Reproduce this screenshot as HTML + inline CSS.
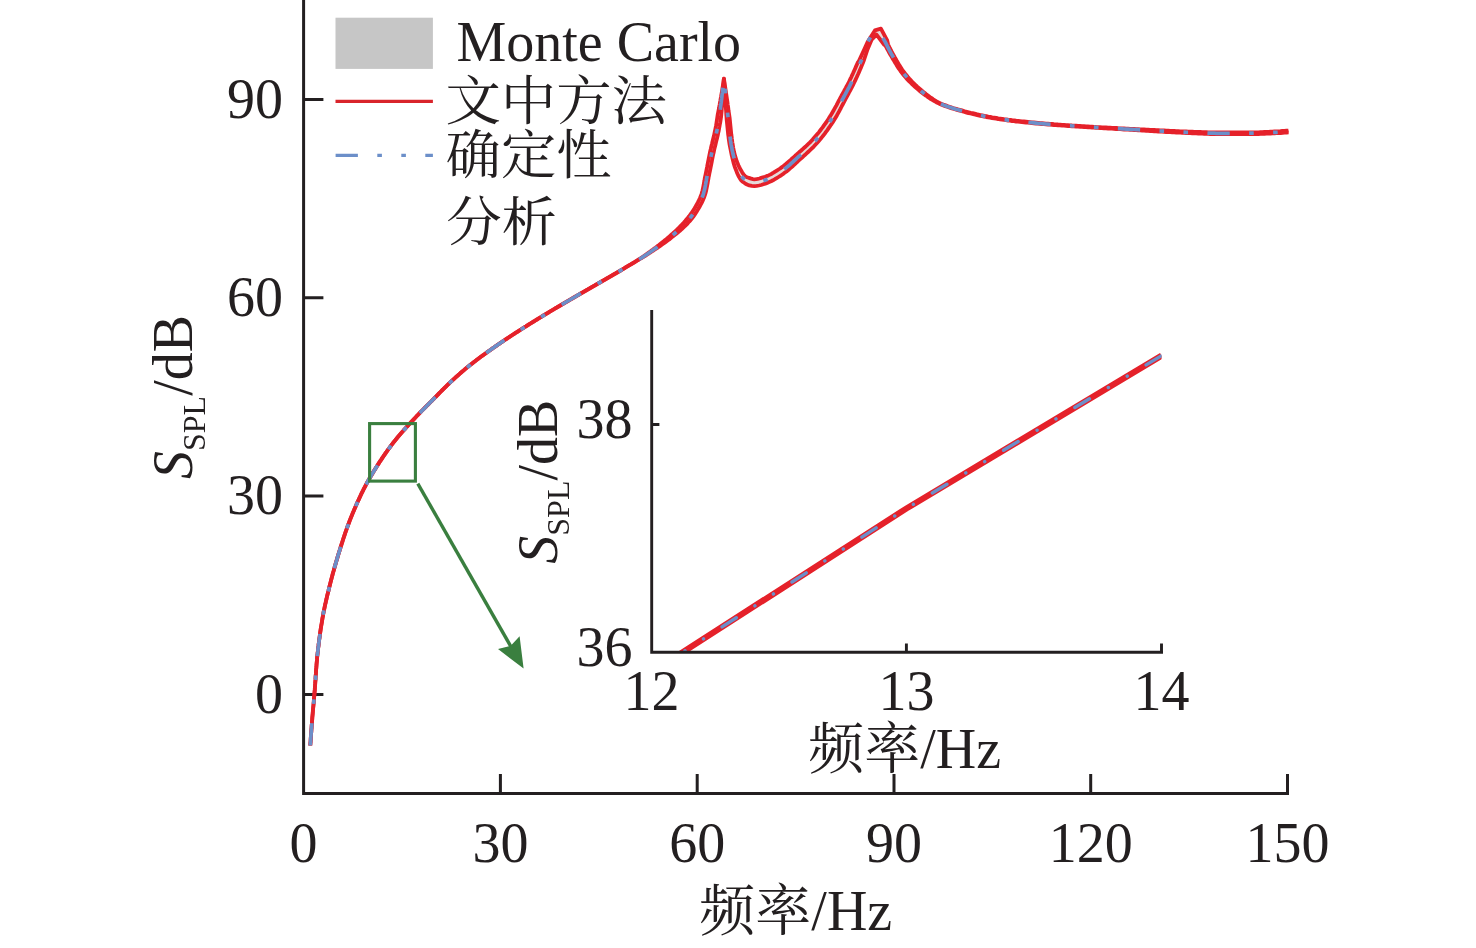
<!DOCTYPE html>
<html lang="zh"><head><meta charset="utf-8"><title>SPL</title>
<style>html,body{margin:0;padding:0;background:#fff}svg{display:block}</style></head>
<body>
<svg width="1476" height="948" viewBox="0 0 1476 948">
<rect width="1476" height="948" fill="#fff"/>
<g font-family="'Liberation Serif','Noto Serif CJK SC',serif" font-size="56" fill="#231f20">
<!-- legend -->
<rect x="335.5" y="17.7" width="97.4" height="51.2" fill="#c6c6c6"/>
<line x1="335.5" y1="101.4" x2="432.9" y2="101.4" stroke="#d9242b" stroke-width="3.2"/>
<line x1="335.6" y1="155.4" x2="432.9" y2="155.4" stroke="#6c8fc9" stroke-width="3.1" stroke-dasharray="22.3 19.4 4.6 19.4 4.6 19.4"/>
<text x="456.5" y="60.8">Monte Carlo</text>
<text transform="translate(445.4 120) scale(1 0.965)" font-size="55.4">文中方法</text>
<text transform="translate(445.6 173.6) scale(1 0.965)" font-size="55.4">确定性</text>
<text transform="translate(446.2 241) scale(1 0.965)" font-size="55.4">分析</text>
<!-- main axes -->
<g stroke="#231f20" stroke-width="3" fill="none" stroke-linecap="butt">
<path d="M303.6 0V793.4H1289"/>
<path d="M303.6 99.4H323.4M303.6 297.7H323.4M303.6 496.1H323.4M303.6 694.4H323.4"/>
<path d="M500.4 793.4V773.9M697.2 793.4V773.9M894 793.4V773.9M1090.7 793.4V773.9M1287.5 793.4V773.9"/>
</g>
<!-- main curve -->
<polygon points="310.3,745.5 310.4,743.5 310.6,741.5 310.7,739.5 310.8,737.5 311.0,735.5 311.1,733.5 311.3,731.5 311.4,729.5 311.6,727.5 311.7,725.5 311.9,723.5 312.0,721.6 312.2,719.6 312.3,717.6 312.5,715.6 312.7,713.6 312.8,711.6 313.0,709.6 313.2,707.6 313.4,705.6 313.6,703.6 313.8,701.6 313.9,699.6 314.1,697.6 314.3,695.6 314.4,693.6 314.6,691.7 314.8,689.7 314.9,687.7 315.0,685.7 315.2,683.7 315.3,681.7 315.5,679.7 315.6,677.7 315.7,675.7 315.9,673.7 316.0,671.7 316.1,669.7 316.3,667.7 316.4,665.7 316.6,663.7 316.8,661.7 317.0,659.7 317.1,657.7 317.3,655.7 317.5,653.8 317.8,651.8 318.0,649.8 318.2,647.8 318.5,645.8 318.7,643.8 319.0,641.8 319.2,639.8 319.5,637.9 319.8,635.9 320.0,633.9 320.3,631.9 320.6,629.9 320.9,627.9 321.2,626.0 321.5,624.0 321.9,622.0 322.2,620.0 322.5,618.1 322.9,616.1 323.2,614.1 323.6,612.2 324.0,610.2 324.4,608.3 324.8,606.3 325.2,604.3 325.7,602.4 326.1,600.4 326.6,598.5 327.0,596.5 327.5,594.6 328.0,592.6 328.5,590.7 328.9,588.8 329.4,586.8 329.9,584.9 330.4,582.9 330.9,581.0 331.4,579.1 331.9,577.1 332.4,575.2 332.9,573.3 333.5,571.3 334.0,569.4 334.5,567.5 335.1,565.5 335.6,563.6 336.2,561.7 336.8,559.8 337.3,557.9 337.9,556.0 338.5,554.0 339.1,552.1 339.7,550.2 340.3,548.3 340.8,546.4 341.5,544.5 342.1,542.6 342.7,540.7 343.3,538.8 343.9,536.9 344.6,535.0 345.2,533.1 345.9,531.2 346.5,529.3 347.2,527.4 347.9,525.5 348.6,523.6 349.3,521.8 350.0,519.9 350.7,518.1 351.5,516.2 352.2,514.3 353.0,512.5 353.8,510.7 354.6,508.8 355.4,507.0 356.2,505.1 357.0,503.3 357.8,501.5 358.7,499.7 359.5,497.8 360.3,496.0 361.2,494.2 362.1,492.4 363.0,490.6 363.8,488.8 364.8,487.1 365.7,485.3 366.6,483.5 367.6,481.8 368.6,480.0 369.6,478.3 370.6,476.6 371.6,474.9 372.6,473.1 373.7,471.4 374.7,469.7 375.8,468.0 376.9,466.3 377.9,464.6 379.0,462.9 380.1,461.2 381.2,459.6 382.3,457.9 383.5,456.2 384.6,454.6 385.7,452.9 386.9,451.3 388.0,449.7 389.2,448.1 390.4,446.5 391.6,444.9 392.8,443.3 394.0,441.7 395.3,440.2 396.5,438.6 397.8,437.1 399.1,435.6 400.4,434.0 401.7,432.5 403.1,431.0 404.4,429.5 405.7,428.0 407.1,426.5 408.4,425.0 409.8,423.6 411.1,422.1 412.5,420.6 413.9,419.1 415.2,417.7 416.6,416.2 418.0,414.8 419.4,413.3 420.7,411.9 422.1,410.5 423.6,409.0 425.0,407.6 426.4,406.2 427.8,404.8 429.2,403.4 430.6,402.0 432.0,400.5 433.4,399.1 434.8,397.7 436.2,396.3 437.6,394.8 439.0,393.4 440.4,392.0 441.8,390.5 443.3,389.1 444.7,387.7 446.1,386.3 447.5,384.9 449.0,383.5 450.4,382.1 451.9,380.8 453.4,379.4 454.8,378.1 456.3,376.7 457.8,375.4 459.3,374.1 460.8,372.7 462.3,371.4 463.9,370.1 465.4,368.8 466.9,367.6 468.5,366.3 470.0,365.1 471.6,363.8 473.2,362.6 474.7,361.4 476.3,360.1 477.9,358.9 479.5,357.7 481.1,356.5 482.8,355.4 484.4,354.2 486.0,353.0 487.6,351.8 489.3,350.7 490.9,349.5 492.5,348.4 494.2,347.2 495.8,346.1 497.5,344.9 499.1,343.8 500.8,342.7 502.4,341.5 504.1,340.4 505.7,339.3 507.4,338.2 509.1,337.1 510.7,336.0 512.4,334.9 514.1,333.8 515.8,332.7 517.5,331.6 519.1,330.6 520.8,329.5 522.5,328.4 524.2,327.3 525.9,326.3 527.6,325.2 529.3,324.1 531.0,323.1 532.7,322.0 534.4,321.0 536.1,319.9 537.8,318.9 539.5,317.8 541.2,316.8 542.9,315.7 544.6,314.7 546.3,313.7 548.1,312.6 549.8,311.6 551.5,310.6 553.2,309.6 554.9,308.5 556.7,307.5 558.4,306.5 560.1,305.5 561.8,304.5 563.5,303.5 565.3,302.4 567.0,301.4 568.7,300.4 570.5,299.4 572.2,298.4 573.9,297.4 575.6,296.4 577.4,295.4 579.1,294.4 580.8,293.4 582.6,292.4 584.3,291.4 586.0,290.4 587.8,289.4 589.5,288.4 591.2,287.4 593.0,286.4 594.7,285.4 596.4,284.4 598.2,283.4 599.9,282.4 601.6,281.4 603.4,280.4 605.1,279.4 606.8,278.4 608.6,277.4 610.3,276.4 612.0,275.4 613.7,274.4 615.5,273.3 617.2,272.3 618.9,271.3 620.6,270.3 622.4,269.3 624.1,268.3 625.8,267.2 627.5,266.2 629.2,265.2 631.0,264.2 632.7,263.1 634.4,262.1 636.1,261.1 637.8,260.0 639.5,259.0 641.2,257.9 642.9,256.7 644.5,255.6 646.1,254.5 647.7,253.3 649.4,252.1 651.0,250.9 652.6,249.8 654.2,248.6 655.8,247.4 657.4,246.1 659.0,244.9 660.5,243.7 662.1,242.4 663.7,241.2 665.2,239.9 666.8,238.7 668.3,237.4 669.8,236.1 671.3,234.8 672.8,233.5 674.3,232.1 675.7,230.8 677.2,229.4 678.6,228.0 680.0,226.6 681.4,225.2 682.7,223.8 684.1,222.3 685.4,220.8 686.6,219.3 687.9,217.8 689.1,216.3 690.3,214.7 691.4,213.2 692.5,211.5 693.5,209.9 694.6,208.2 695.6,206.5 696.6,204.7 697.6,203.0 698.5,201.2 699.3,199.5 700.1,197.7 700.8,195.9 701.5,194.1 702.0,192.3 702.5,190.5 702.9,188.6 703.3,186.7 703.7,184.7 704.0,182.7 704.4,180.7 704.7,178.7 705.1,176.7 705.5,174.8 705.9,172.8 706.3,170.9 706.7,168.9 707.1,166.9 707.4,165.0 707.8,163.0 708.2,161.0 708.6,159.1 709.0,157.1 709.4,155.1 709.8,153.2 710.2,151.2 710.7,149.2 711.1,147.3 711.6,145.3 712.1,143.4 712.5,141.4 713.0,139.5 713.5,137.5 714.0,135.6 714.4,133.7 714.8,131.7 715.2,129.8 715.6,127.9 716.0,125.9 716.3,124.0 716.6,122.0 716.9,120.0 717.2,118.1 717.5,116.1 717.8,114.1 718.2,112.2 718.6,110.2 719.0,108.2 719.3,106.3 719.7,104.3 720.0,102.3 720.4,100.3 720.7,98.4 721.1,96.4 721.4,94.4 721.8,92.5 722.1,90.5 722.4,88.5 722.7,86.5 723.0,84.5 723.3,82.6 723.6,80.6 723.9,78.6 724.2,80.6 724.5,82.6 724.8,84.6 725.1,86.5 725.4,88.5 725.7,90.5 726.0,92.5 726.3,94.5 726.6,96.5 726.9,98.5 727.2,100.5 727.5,102.5 727.7,104.5 728.0,106.4 728.3,108.4 728.5,110.4 728.8,112.4 729.1,114.4 729.4,116.4 729.7,118.4 729.9,120.4 730.1,122.4 730.3,124.4 730.5,126.4 730.7,128.4 730.9,130.4 731.1,132.4 731.3,134.4 731.6,136.3 731.8,138.3 732.1,140.3 732.3,142.3 732.7,144.2 733.0,146.2 733.3,148.1 733.7,150.1 734.1,152.1 734.6,154.0 735.1,155.9 735.7,157.8 736.3,159.7 736.9,161.5 737.7,163.4 738.4,165.2 739.2,166.9 740.1,168.7 741.1,170.4 742.1,172.2 743.2,173.9 744.3,175.3 745.3,176.3 746.4,176.9 747.9,177.5 749.7,178.1 751.3,178.7 753.0,179.1 754.4,179.3 755.9,179.2 757.6,178.9 759.4,178.5 761.2,177.9 763.1,177.3 765.0,176.7 766.7,176.1 768.4,175.4 770.1,174.6 771.8,173.7 773.5,172.7 775.1,171.7 776.8,170.6 778.5,169.5 780.1,168.5 781.6,167.4 783.2,166.2 784.7,165.0 786.2,163.8 787.7,162.5 789.2,161.2 790.7,159.9 792.2,158.5 793.7,157.2 795.2,155.8 796.7,154.5 798.2,153.1 799.7,151.8 801.2,150.5 802.7,149.1 804.2,147.8 805.7,146.5 807.1,145.1 808.6,143.7 810.0,142.4 811.3,141.0 812.6,139.6 813.9,138.1 815.2,136.6 816.5,135.1 817.8,133.6 819.0,132.1 820.2,130.5 821.4,128.9 822.6,127.4 823.8,125.7 824.9,124.1 826.1,122.5 827.2,120.9 828.3,119.2 829.3,117.6 830.4,115.9 831.4,114.2 832.4,112.5 833.4,110.8 834.3,109.1 835.3,107.3 836.3,105.6 837.2,103.8 838.1,102.0 839.1,100.3 840.0,98.5 841.0,96.7 841.9,94.9 842.9,93.1 843.9,91.4 844.8,89.6 845.8,87.9 846.7,86.1 847.7,84.3 848.6,82.6 849.5,80.8 850.3,79.0 851.2,77.3 852.0,75.4 852.9,73.6 853.7,71.8 854.5,70.0 855.3,68.2 856.1,66.3 856.9,64.5 857.7,62.7 858.9,61.0 864.2,49.5 867.7,41.8 874.9,30.4 880.9,28.7 887.2,40.5 888.1,44.5 889.0,46.3 889.9,48.2 890.8,49.9 891.7,51.7 892.6,53.4 893.6,55.2 894.6,57.0 895.6,58.7 896.6,60.5 897.6,62.2 898.6,63.9 899.6,65.6 900.7,67.3 901.8,69.0 902.9,70.6 904.1,72.2 905.2,73.7 906.5,75.3 907.7,76.8 909.0,78.3 910.4,79.8 911.7,81.3 913.1,82.7 914.6,84.1 916.0,85.5 917.5,86.9 919.0,88.2 920.5,89.5 922.0,90.8 923.5,92.1 925.1,93.3 926.6,94.6 928.3,95.8 929.9,97.0 931.6,98.1 933.2,99.3 934.9,100.3 936.6,101.3 938.4,102.3 940.1,103.2 941.9,104.0 943.7,104.7 945.6,105.4 947.5,106.1 949.4,106.7 951.3,107.4 953.2,108.0 955.1,108.5 957.1,109.1 959.0,109.7 961.0,110.2 962.9,110.7 964.8,111.3 966.8,111.8 968.7,112.3 970.7,112.8 972.6,113.2 974.6,113.7 976.5,114.2 978.5,114.6 980.4,115.0 982.4,115.4 984.4,115.8 986.3,116.2 988.3,116.6 990.3,116.9 992.2,117.3 994.2,117.6 996.2,117.9 998.2,118.3 1000.2,118.6 1002.1,118.9 1004.1,119.2 1006.1,119.4 1008.1,119.7 1010.1,119.9 1012.1,120.2 1014.1,120.4 1016.1,120.7 1018.1,120.9 1020.0,121.1 1022.0,121.3 1024.0,121.5 1026.0,121.7 1028.0,121.9 1030.0,122.1 1032.0,122.3 1034.0,122.5 1036.0,122.7 1038.0,122.9 1040.0,123.1 1042.0,123.2 1044.0,123.4 1046.0,123.6 1048.0,123.7 1050.0,123.9 1052.0,124.0 1054.0,124.2 1056.0,124.3 1058.0,124.5 1060.0,124.6 1062.0,124.8 1064.0,124.9 1066.0,125.1 1068.0,125.2 1070.0,125.3 1072.0,125.5 1074.0,125.6 1076.0,125.7 1078.0,125.9 1080.0,126.0 1082.0,126.1 1084.0,126.2 1086.0,126.4 1088.0,126.5 1090.1,126.6 1092.1,126.7 1094.1,126.8 1096.1,127.0 1098.1,127.1 1100.1,127.2 1102.1,127.3 1104.1,127.4 1106.1,127.5 1108.1,127.6 1110.1,127.7 1112.1,127.8 1114.1,127.9 1116.1,128.0 1118.1,128.2 1120.1,128.3 1122.1,128.4 1124.1,128.5 1126.1,128.6 1128.1,128.7 1130.1,128.8 1132.1,128.9 1134.1,129.0 1136.1,129.1 1138.1,129.2 1140.1,129.3 1142.2,129.4 1144.2,129.5 1146.2,129.6 1148.2,129.7 1150.2,129.8 1152.2,129.9 1154.2,130.0 1156.2,130.1 1158.2,130.2 1160.2,130.3 1162.2,130.4 1164.2,130.5 1166.2,130.6 1168.2,130.7 1170.2,130.8 1172.2,130.9 1174.2,131.0 1176.2,131.1 1178.2,131.2 1180.2,131.3 1182.2,131.4 1184.2,131.4 1186.2,131.5 1188.2,131.6 1190.3,131.7 1192.3,131.7 1194.3,131.8 1196.3,131.9 1198.3,131.9 1200.3,132.0 1202.3,132.1 1204.3,132.2 1206.3,132.2 1208.3,132.3 1210.3,132.3 1212.3,132.4 1214.3,132.4 1216.3,132.5 1218.3,132.5 1220.3,132.5 1222.3,132.5 1224.3,132.5 1226.3,132.5 1228.3,132.5 1230.3,132.5 1232.4,132.5 1234.4,132.5 1236.4,132.4 1238.4,132.4 1240.4,132.4 1242.4,132.4 1244.4,132.4 1246.4,132.4 1248.4,132.4 1250.4,132.4 1252.4,132.4 1254.4,132.4 1256.4,132.3 1258.4,132.3 1260.4,132.2 1262.4,132.1 1264.4,132.0 1266.4,132.0 1268.4,131.8 1270.4,131.7 1272.4,131.6 1274.4,131.5 1276.4,131.4 1278.4,131.3 1280.4,131.2 1282.4,131.0 1284.4,130.9 1286.4,130.7 1288.4,130.6 1288.6,132.4 1286.6,132.5 1284.6,132.7 1282.6,132.8 1280.6,133.0 1278.5,133.1 1276.5,133.2 1274.5,133.3 1272.5,133.4 1270.5,133.5 1268.5,133.6 1266.5,133.7 1264.5,133.8 1262.5,133.9 1260.5,133.9 1258.5,134.0 1256.5,134.1 1254.4,134.1 1252.4,134.1 1250.4,134.1 1248.4,134.1 1246.4,134.1 1244.4,134.1 1242.4,134.1 1240.4,134.1 1238.4,134.1 1236.4,134.1 1234.4,134.1 1232.4,134.1 1230.3,134.1 1228.3,134.1 1226.3,134.1 1224.3,134.1 1222.3,134.1 1220.3,134.1 1218.3,134.1 1216.3,134.1 1214.3,134.1 1212.3,134.0 1210.3,134.0 1208.3,133.9 1206.2,133.8 1204.2,133.8 1202.2,133.7 1200.2,133.6 1198.2,133.5 1196.2,133.4 1194.2,133.3 1192.2,133.3 1190.2,133.2 1188.2,133.1 1186.2,133.0 1184.2,132.9 1182.2,132.8 1180.2,132.7 1178.2,132.6 1176.2,132.5 1174.1,132.4 1172.1,132.3 1170.1,132.2 1168.1,132.1 1166.1,132.0 1164.1,131.8 1162.1,131.7 1160.1,131.6 1158.1,131.5 1156.1,131.4 1154.1,131.3 1152.1,131.2 1150.1,131.0 1148.1,130.9 1146.1,130.8 1144.1,130.7 1142.1,130.5 1140.1,130.4 1138.1,130.3 1136.1,130.2 1134.1,130.1 1132.1,129.9 1130.1,129.8 1128.1,129.7 1126.1,129.6 1124.1,129.5 1122.1,129.3 1120.1,129.2 1118.1,129.1 1116.0,129.0 1114.0,128.9 1112.0,128.7 1110.0,128.6 1108.0,128.5 1106.0,128.4 1104.0,128.3 1102.0,128.1 1100.0,128.0 1098.0,127.9 1096.0,127.8 1094.0,127.6 1092.0,127.5 1090.0,127.4 1088.0,127.3 1086.0,127.2 1084.0,127.0 1082.0,126.9 1080.0,126.8 1078.0,126.7 1076.0,126.5 1074.0,126.4 1072.0,126.3 1070.0,126.1 1068.0,126.0 1066.0,125.9 1064.0,125.7 1062.0,125.6 1060.0,125.4 1058.0,125.3 1056.0,125.1 1054.0,125.0 1052.0,124.8 1049.9,124.7 1047.9,124.5 1045.9,124.4 1043.9,124.2 1041.9,124.0 1039.9,123.9 1037.9,123.7 1035.9,123.5 1033.9,123.3 1032.0,123.1 1030.0,122.9 1028.0,122.7 1026.0,122.5 1024.0,122.3 1022.0,122.1 1020.0,121.9 1018.0,121.7 1016.0,121.5 1014.0,121.2 1012.0,121.0 1010.0,120.7 1008.0,120.5 1006.0,120.2 1004.0,119.9 1002.0,119.7 1000.0,119.4 998.1,119.0 996.1,118.7 994.1,118.4 992.1,118.1 990.1,117.7 988.2,117.3 986.2,117.0 984.2,116.6 982.2,116.2 980.3,115.8 978.3,115.4 976.3,114.9 974.4,114.5 972.4,114.0 970.5,113.5 968.5,113.1 966.6,112.6 964.6,112.0 962.7,111.5 960.8,111.0 958.8,110.4 956.9,109.9 954.9,109.3 953.0,108.7 951.0,108.1 949.1,107.5 947.2,106.8 945.3,106.2 943.4,105.4 941.6,104.7 939.8,103.9 938.0,103.1 936.2,102.2 934.4,101.2 932.7,100.1 930.9,99.1 929.2,97.9 927.5,96.8 925.9,95.6 924.2,94.4 922.6,93.2 921.0,92.0 919.5,90.7 917.9,89.4 916.4,88.1 914.9,86.8 913.4,85.4 911.9,84.0 910.4,82.5 909.0,81.1 907.6,79.6 906.2,78.1 904.9,76.6 903.6,75.0 902.4,73.5 901.1,71.9 900.0,70.2 898.8,68.6 897.7,66.9 896.6,65.2 895.6,63.4 894.5,61.7 893.5,59.9 892.4,58.2 891.4,56.4 890.4,54.7 889.4,53.0 888.4,51.2 887.4,49.4 886.5,47.6 885.5,45.9 884.6,44.1 884.0,44.5 876.5,34.6 871.6,39.8 867.5,49.5 863.7,60.8 863.0,62.7 862.2,64.5 861.4,66.4 860.7,68.3 859.9,70.1 859.1,72.0 858.3,73.8 857.4,75.7 856.6,77.5 855.7,79.4 854.9,81.2 854.0,83.0 853.1,84.9 852.2,86.7 851.2,88.5 850.3,90.3 849.3,92.0 848.4,93.8 847.4,95.6 846.5,97.3 845.5,99.1 844.6,100.9 843.7,102.7 842.7,104.5 841.8,106.2 840.9,108.0 839.9,109.8 839.0,111.6 838.0,113.4 837.0,115.2 836.0,116.9 834.9,118.7 833.9,120.4 832.8,122.1 831.7,123.8 830.5,125.5 829.4,127.2 828.2,128.9 827.0,130.6 825.8,132.2 824.6,133.9 823.3,135.5 822.0,137.1 820.7,138.7 819.4,140.2 818.1,141.8 816.8,143.3 815.4,144.8 814.0,146.3 812.5,147.8 811.1,149.2 809.6,150.6 808.1,152.0 806.6,153.4 805.1,154.8 803.6,156.1 802.1,157.5 800.6,158.8 799.1,160.1 797.7,161.5 796.2,162.9 794.7,164.3 793.2,165.7 791.7,167.0 790.1,168.4 788.6,169.7 787.0,171.1 785.3,172.3 783.6,173.6 782.0,174.7 780.3,175.9 778.5,177.0 776.7,178.1 774.9,179.2 773.0,180.3 771.1,181.3 769.2,182.1 767.2,182.9 765.3,183.6 763.3,184.3 761.2,185.0 759.0,185.5 756.7,185.9 754.3,186.1 751.8,185.9 749.3,185.4 747.0,184.5 744.9,183.3 743.1,182.0 741.4,180.5 740.0,178.6 738.8,176.6 737.8,174.5 736.9,172.4 736.2,170.5 735.4,168.6 734.7,166.6 734.1,164.6 733.5,162.6 733.0,160.6 732.5,158.6 732.1,156.7 731.6,154.7 731.2,152.7 730.8,150.7 730.4,148.7 730.0,146.7 729.6,144.7 729.3,142.7 729.0,140.7 728.7,138.7 728.5,136.7 728.2,134.7 728.0,132.7 727.8,130.7 727.6,128.7 727.4,126.7 727.2,124.7 727.0,122.7 726.8,120.7 726.6,118.7 726.5,116.7 726.3,114.7 726.2,112.7 726.1,110.7 725.9,108.7 725.8,106.7 725.7,104.7 725.6,102.7 725.4,100.6 725.3,98.6 725.2,96.6 725.0,94.6 724.9,92.6 724.8,90.6 724.6,88.6 724.5,86.6 724.3,84.6 724.2,82.6 724.0,80.6 723.9,78.6 723.8,80.6 723.7,82.6 723.5,84.6 723.4,86.6 723.3,88.6 723.1,90.6 723.0,92.6 722.9,94.6 722.7,96.6 722.6,98.6 722.4,100.6 722.3,102.6 722.1,104.6 722.0,106.6 721.8,108.6 721.7,110.6 721.5,112.6 721.3,114.6 721.1,116.6 720.8,118.6 720.5,120.6 720.2,122.6 719.8,124.5 719.5,126.5 719.1,128.5 718.8,130.5 718.3,132.5 717.9,134.5 717.5,136.4 717.0,138.4 716.5,140.3 716.0,142.3 715.6,144.2 715.1,146.2 714.6,148.1 714.2,150.0 713.8,152.0 713.3,153.9 712.9,155.9 712.5,157.8 712.1,159.8 711.8,161.7 711.4,163.7 711.0,165.7 710.6,167.6 710.2,169.6 709.8,171.6 709.4,173.5 709.0,175.5 708.6,177.4 708.3,179.4 707.9,181.4 707.6,183.4 707.2,185.4 706.8,187.4 706.4,189.3 706.0,191.3 705.5,193.3 704.9,195.2 704.2,197.2 703.4,199.1 702.6,201.0 701.7,202.8 700.7,204.7 699.7,206.5 698.7,208.3 697.6,210.1 696.6,211.8 695.5,213.5 694.4,215.2 693.2,216.9 691.9,218.5 690.6,220.1 689.2,221.6 687.9,223.1 686.5,224.6 685.0,226.0 683.6,227.4 682.1,228.8 680.6,230.2 679.0,231.5 677.5,232.8 676.0,234.1 674.4,235.3 672.8,236.6 671.2,237.8 669.7,239.1 668.0,240.3 666.4,241.5 664.8,242.7 663.2,243.8 661.5,245.0 659.9,246.1 658.2,247.3 656.5,248.4 654.9,249.5 653.2,250.6 651.5,251.7 649.8,252.8 648.2,253.9 646.5,255.0 644.8,256.0 643.1,257.1 641.4,258.1 639.6,259.1 637.9,260.2 636.2,261.2 634.5,262.3 632.8,263.3 631.1,264.3 629.3,265.3 627.6,266.4 625.9,267.4 624.2,268.4 622.5,269.4 620.7,270.5 619.0,271.5 617.3,272.5 615.6,273.5 613.8,274.5 612.1,275.5 610.4,276.5 608.6,277.5 606.9,278.5 605.2,279.5 603.4,280.5 601.7,281.5 600.0,282.5 598.2,283.5 596.5,284.5 594.8,285.5 593.0,286.5 591.3,287.5 589.6,288.5 587.8,289.5 586.1,290.5 584.4,291.5 582.6,292.5 580.9,293.5 579.2,294.5 577.4,295.5 575.7,296.5 574.0,297.5 572.3,298.5 570.5,299.5 568.8,300.6 567.1,301.6 565.4,302.6 563.6,303.6 561.9,304.6 560.2,305.6 558.5,306.6 556.7,307.7 555.0,308.7 553.3,309.7 551.6,310.7 549.8,311.7 548.1,312.8 546.4,313.8 544.7,314.8 543.0,315.9 541.3,316.9 539.6,317.9 537.9,319.0 536.2,320.0 534.5,321.1 532.8,322.1 531.1,323.2 529.4,324.2 527.7,325.3 526.0,326.4 524.3,327.4 522.6,328.5 520.9,329.6 519.2,330.7 517.5,331.8 515.8,332.8 514.2,333.9 512.5,335.0 510.8,336.1 509.1,337.2 507.5,338.3 505.8,339.4 504.1,340.5 502.5,341.6 500.8,342.8 499.2,343.9 497.5,345.0 495.9,346.2 494.2,347.3 492.6,348.4 491.0,349.6 489.3,350.8 487.7,351.9 486.1,353.1 484.4,354.3 482.8,355.4 481.2,356.6 479.6,357.8 478.0,359.0 476.4,360.2 474.8,361.4 473.2,362.7 471.7,363.9 470.1,365.1 468.5,366.4 467.0,367.6 465.5,368.9 463.9,370.2 462.4,371.5 460.9,372.8 459.4,374.1 457.9,375.5 456.4,376.8 454.9,378.1 453.4,379.5 451.9,380.8 450.5,382.2 449.0,383.6 447.6,385.0 446.2,386.4 444.7,387.8 443.3,389.2 441.9,390.6 440.5,392.0 439.1,393.4 437.7,394.9 436.3,396.3 434.9,397.7 433.5,399.2 432.1,400.6 430.7,402.0 429.3,403.4 427.8,404.8 426.4,406.3 425.0,407.7 423.6,409.1 422.2,410.5 420.8,411.9 419.4,413.4 418.0,414.8 416.6,416.3 415.3,417.7 413.9,419.2 412.5,420.7 411.2,422.1 409.8,423.6 408.5,425.1 407.1,426.6 405.8,428.1 404.4,429.6 403.1,431.1 401.8,432.6 400.5,434.1 399.2,435.6 397.9,437.1 396.6,438.7 395.3,440.2 394.1,441.8 392.8,443.3 391.6,444.9 390.4,446.5 389.3,448.1 388.1,449.7 386.9,451.3 385.8,453.0 384.6,454.6 383.5,456.3 382.4,457.9 381.3,459.6 380.1,461.3 379.1,462.9 378.0,464.6 376.9,466.3 375.8,468.0 374.8,469.7 373.7,471.4 372.7,473.2 371.7,474.9 370.6,476.6 369.6,478.3 368.6,480.1 367.6,481.8 366.7,483.5 365.7,485.3 364.8,487.1 363.9,488.9 363.0,490.6 362.1,492.4 361.2,494.2 360.4,496.1 359.5,497.9 358.7,499.7 357.8,501.5 357.0,503.3 356.2,505.2 355.4,507.0 354.6,508.8 353.8,510.7 353.0,512.5 352.3,514.4 351.5,516.2 350.8,518.1 350.0,519.9 349.3,521.8 348.6,523.7 347.9,525.5 347.2,527.4 346.6,529.3 345.9,531.2 345.2,533.1 344.6,535.0 344.0,536.9 343.3,538.8 342.7,540.7 342.1,542.6 341.5,544.5 340.9,546.4 340.3,548.3 339.7,550.2 339.1,552.1 338.5,554.0 337.9,556.0 337.4,557.9 336.8,559.8 336.2,561.7 335.7,563.6 335.1,565.6 334.6,567.5 334.0,569.4 333.5,571.3 332.9,573.3 332.4,575.2 331.9,577.1 331.4,579.1 330.9,581.0 330.4,582.9 329.9,584.9 329.4,586.8 328.9,588.8 328.5,590.7 328.0,592.6 327.5,594.6 327.0,596.5 326.6,598.5 326.1,600.4 325.7,602.4 325.2,604.3 324.8,606.3 324.4,608.3 324.0,610.2 323.6,612.2 323.2,614.1 322.9,616.1 322.5,618.1 322.2,620.0 321.9,622.0 321.6,624.0 321.2,626.0 320.9,627.9 320.6,629.9 320.3,631.9 320.0,633.9 319.8,635.9 319.5,637.9 319.2,639.8 319.0,641.8 318.7,643.8 318.5,645.8 318.2,647.8 318.0,649.8 317.8,651.8 317.6,653.8 317.3,655.7 317.1,657.7 317.0,659.7 316.8,661.7 316.6,663.7 316.5,665.7 316.3,667.7 316.1,669.7 316.0,671.7 315.9,673.7 315.7,675.7 315.6,677.7 315.5,679.7 315.3,681.7 315.2,683.7 315.1,685.7 314.9,687.7 314.8,689.7 314.6,691.7 314.5,693.6 314.3,695.6 314.1,697.6 313.9,699.6 313.8,701.6 313.6,703.6 313.4,705.6 313.2,707.6 313.0,709.6 312.9,711.6 312.7,713.6 312.5,715.6 312.3,717.6 312.2,719.6 312.0,721.6 311.9,723.5 311.7,725.5 311.6,727.5 311.4,729.5 311.3,731.5 311.1,733.5 311.0,735.5 310.8,737.5 310.7,739.5 310.6,741.5 310.4,743.5 310.3,745.5" fill="#e6d9d9"/>
<polyline points="310.3,745.5 310.4,743.5 310.6,741.5 310.7,739.5 310.8,737.5 311.0,735.5 311.1,733.5 311.3,731.5 311.4,729.5 311.6,727.5 311.7,725.5 311.9,723.5 312.0,721.6 312.2,719.6 312.3,717.6 312.5,715.6 312.7,713.6 312.8,711.6 313.0,709.6 313.2,707.6 313.4,705.6 313.6,703.6 313.8,701.6 313.9,699.6 314.1,697.6 314.3,695.6 314.4,693.6 314.6,691.7 314.8,689.7 314.9,687.7 315.0,685.7 315.2,683.7 315.3,681.7 315.5,679.7 315.6,677.7 315.7,675.7 315.9,673.7 316.0,671.7 316.1,669.7 316.3,667.7 316.4,665.7 316.6,663.7 316.8,661.7 317.0,659.7 317.1,657.7 317.3,655.7 317.5,653.8 317.8,651.8 318.0,649.8 318.2,647.8 318.5,645.8 318.7,643.8 319.0,641.8 319.2,639.8 319.5,637.9 319.8,635.9 320.0,633.9 320.3,631.9 320.6,629.9 320.9,627.9 321.2,626.0 321.5,624.0 321.9,622.0 322.2,620.0 322.5,618.1 322.9,616.1 323.2,614.1 323.6,612.2 324.0,610.2 324.4,608.3 324.8,606.3 325.2,604.3 325.7,602.4 326.1,600.4 326.6,598.5 327.0,596.5 327.5,594.6 328.0,592.6 328.5,590.7 328.9,588.8 329.4,586.8 329.9,584.9 330.4,582.9 330.9,581.0 331.4,579.1 331.9,577.1 332.4,575.2 332.9,573.3 333.5,571.3 334.0,569.4 334.5,567.5 335.1,565.5 335.6,563.6 336.2,561.7 336.8,559.8 337.3,557.9 337.9,556.0 338.5,554.0 339.1,552.1 339.7,550.2 340.3,548.3 340.8,546.4 341.5,544.5 342.1,542.6 342.7,540.7 343.3,538.8 343.9,536.9 344.6,535.0 345.2,533.1 345.9,531.2 346.5,529.3 347.2,527.4 347.9,525.5 348.6,523.6 349.3,521.8 350.0,519.9 350.7,518.1 351.5,516.2 352.2,514.3 353.0,512.5 353.8,510.7 354.6,508.8 355.4,507.0 356.2,505.1 357.0,503.3 357.8,501.5 358.7,499.7 359.5,497.8 360.3,496.0 361.2,494.2 362.1,492.4 363.0,490.6 363.8,488.8 364.8,487.1 365.7,485.3 366.6,483.5 367.6,481.8 368.6,480.0 369.6,478.3 370.6,476.6 371.6,474.9 372.6,473.1 373.7,471.4 374.7,469.7 375.8,468.0 376.9,466.3 377.9,464.6 379.0,462.9 380.1,461.2 381.2,459.6 382.3,457.9 383.5,456.2 384.6,454.6 385.7,452.9 386.9,451.3 388.0,449.7 389.2,448.1 390.4,446.5 391.6,444.9 392.8,443.3 394.0,441.7 395.3,440.2 396.5,438.6 397.8,437.1 399.1,435.6 400.4,434.0 401.7,432.5 403.1,431.0 404.4,429.5 405.7,428.0 407.1,426.5 408.4,425.0 409.8,423.6 411.1,422.1 412.5,420.6 413.9,419.1 415.2,417.7 416.6,416.2 418.0,414.8 419.4,413.3 420.7,411.9 422.1,410.5 423.6,409.0 425.0,407.6 426.4,406.2 427.8,404.8 429.2,403.4 430.6,402.0 432.0,400.5 433.4,399.1 434.8,397.7 436.2,396.3 437.6,394.8 439.0,393.4 440.4,392.0 441.8,390.5 443.3,389.1 444.7,387.7 446.1,386.3 447.5,384.9 449.0,383.5 450.4,382.1 451.9,380.8 453.4,379.4 454.8,378.1 456.3,376.7 457.8,375.4 459.3,374.1 460.8,372.7 462.3,371.4 463.9,370.1 465.4,368.8 466.9,367.6 468.5,366.3 470.0,365.1 471.6,363.8 473.2,362.6 474.7,361.4 476.3,360.1 477.9,358.9 479.5,357.7 481.1,356.5 482.8,355.4 484.4,354.2 486.0,353.0 487.6,351.8 489.3,350.7 490.9,349.5 492.5,348.4 494.2,347.2 495.8,346.1 497.5,344.9 499.1,343.8 500.8,342.7 502.4,341.5 504.1,340.4 505.7,339.3 507.4,338.2 509.1,337.1 510.7,336.0 512.4,334.9 514.1,333.8 515.8,332.7 517.5,331.6 519.1,330.6 520.8,329.5 522.5,328.4 524.2,327.3 525.9,326.3 527.6,325.2 529.3,324.1 531.0,323.1 532.7,322.0 534.4,321.0 536.1,319.9 537.8,318.9 539.5,317.8 541.2,316.8 542.9,315.7 544.6,314.7 546.3,313.7 548.1,312.6 549.8,311.6 551.5,310.6 553.2,309.6 554.9,308.5 556.7,307.5 558.4,306.5 560.1,305.5 561.8,304.5 563.5,303.5 565.3,302.4 567.0,301.4 568.7,300.4 570.5,299.4 572.2,298.4 573.9,297.4 575.6,296.4 577.4,295.4 579.1,294.4 580.8,293.4 582.6,292.4 584.3,291.4 586.0,290.4 587.8,289.4 589.5,288.4 591.2,287.4 593.0,286.4 594.7,285.4 596.4,284.4 598.2,283.4 599.9,282.4 601.6,281.4 603.4,280.4 605.1,279.4 606.8,278.4 608.6,277.4 610.3,276.4 612.0,275.4 613.7,274.4 615.5,273.3 617.2,272.3 618.9,271.3 620.6,270.3 622.4,269.3 624.1,268.3 625.8,267.2 627.5,266.2 629.2,265.2 631.0,264.2 632.7,263.1 634.4,262.1 636.1,261.1 637.8,260.0 639.5,259.0 641.2,257.9 642.9,256.7 644.5,255.6 646.1,254.5 647.7,253.3 649.4,252.1 651.0,250.9 652.6,249.8 654.2,248.6 655.8,247.4 657.4,246.1 659.0,244.9 660.5,243.7 662.1,242.4 663.7,241.2 665.2,239.9 666.8,238.7 668.3,237.4 669.8,236.1 671.3,234.8 672.8,233.5 674.3,232.1 675.7,230.8 677.2,229.4 678.6,228.0 680.0,226.6 681.4,225.2 682.7,223.8 684.1,222.3 685.4,220.8 686.6,219.3 687.9,217.8 689.1,216.3 690.3,214.7 691.4,213.2 692.5,211.5 693.5,209.9 694.6,208.2 695.6,206.5 696.6,204.7 697.6,203.0 698.5,201.2 699.3,199.5 700.1,197.7 700.8,195.9 701.5,194.1 702.0,192.3 702.5,190.5 702.9,188.6 703.3,186.7 703.7,184.7 704.0,182.7 704.4,180.7 704.7,178.7 705.1,176.7 705.5,174.8 705.9,172.8 706.3,170.9 706.7,168.9 707.1,166.9 707.4,165.0 707.8,163.0 708.2,161.0 708.6,159.1 709.0,157.1 709.4,155.1 709.8,153.2 710.2,151.2 710.7,149.2 711.1,147.3 711.6,145.3 712.1,143.4 712.5,141.4 713.0,139.5 713.5,137.5 714.0,135.6 714.4,133.7 714.8,131.7 715.2,129.8 715.6,127.9 716.0,125.9 716.3,124.0 716.6,122.0 716.9,120.0 717.2,118.1 717.5,116.1 717.8,114.1 718.2,112.2 718.6,110.2 719.0,108.2 719.3,106.3 719.7,104.3 720.0,102.3 720.4,100.3 720.7,98.4 721.1,96.4 721.4,94.4 721.8,92.5 722.1,90.5 722.4,88.5 722.7,86.5 723.0,84.5 723.3,82.6 723.6,80.6 723.9,78.6 724.2,80.6 724.5,82.6 724.8,84.6 725.1,86.5 725.4,88.5 725.7,90.5 726.0,92.5 726.3,94.5 726.6,96.5 726.9,98.5 727.2,100.5 727.5,102.5 727.7,104.5 728.0,106.4 728.3,108.4 728.5,110.4 728.8,112.4 729.1,114.4 729.4,116.4 729.7,118.4 729.9,120.4 730.1,122.4 730.3,124.4 730.5,126.4 730.7,128.4 730.9,130.4 731.1,132.4 731.3,134.4 731.6,136.3 731.8,138.3 732.1,140.3 732.3,142.3 732.7,144.2 733.0,146.2 733.3,148.1 733.7,150.1 734.1,152.1 734.6,154.0 735.1,155.9 735.7,157.8 736.3,159.7 736.9,161.5 737.7,163.4 738.4,165.2 739.2,166.9 740.1,168.7 741.1,170.4 742.1,172.2 743.2,173.9 744.3,175.3 745.3,176.3 746.4,176.9 747.9,177.5 749.7,178.1 751.3,178.7 753.0,179.1 754.4,179.3 755.9,179.2 757.6,178.9 759.4,178.5 761.2,177.9 763.1,177.3 765.0,176.7 766.7,176.1 768.4,175.4 770.1,174.6 771.8,173.7 773.5,172.7 775.1,171.7 776.8,170.6 778.5,169.5 780.1,168.5 781.6,167.4 783.2,166.2 784.7,165.0 786.2,163.8 787.7,162.5 789.2,161.2 790.7,159.9 792.2,158.5 793.7,157.2 795.2,155.8 796.7,154.5 798.2,153.1 799.7,151.8 801.2,150.5 802.7,149.1 804.2,147.8 805.7,146.5 807.1,145.1 808.6,143.7 810.0,142.4 811.3,141.0 812.6,139.6 813.9,138.1 815.2,136.6 816.5,135.1 817.8,133.6 819.0,132.1 820.2,130.5 821.4,128.9 822.6,127.4 823.8,125.7 824.9,124.1 826.1,122.5 827.2,120.9 828.3,119.2 829.3,117.6 830.4,115.9 831.4,114.2 832.4,112.5 833.4,110.8 834.3,109.1 835.3,107.3 836.3,105.6 837.2,103.8 838.1,102.0 839.1,100.3 840.0,98.5 841.0,96.7 841.9,94.9 842.9,93.1 843.9,91.4 844.8,89.6 845.8,87.9 846.7,86.1 847.7,84.3 848.6,82.6 849.5,80.8 850.3,79.0 851.2,77.3 852.0,75.4 852.9,73.6 853.7,71.8 854.5,70.0 855.3,68.2 856.1,66.3 856.9,64.5 857.7,62.7 858.9,61.0 864.2,49.5 867.7,41.8 874.9,30.4 880.9,28.7 887.2,40.5 888.1,44.5 889.0,46.3 889.9,48.2 890.8,49.9 891.7,51.7 892.6,53.4 893.6,55.2 894.6,57.0 895.6,58.7 896.6,60.5 897.6,62.2 898.6,63.9 899.6,65.6 900.7,67.3 901.8,69.0 902.9,70.6 904.1,72.2 905.2,73.7 906.5,75.3 907.7,76.8 909.0,78.3 910.4,79.8 911.7,81.3 913.1,82.7 914.6,84.1 916.0,85.5 917.5,86.9 919.0,88.2 920.5,89.5 922.0,90.8 923.5,92.1 925.1,93.3 926.6,94.6 928.3,95.8 929.9,97.0 931.6,98.1 933.2,99.3 934.9,100.3 936.6,101.3 938.4,102.3 940.1,103.2 941.9,104.0 943.7,104.7 945.6,105.4 947.5,106.1 949.4,106.7 951.3,107.4 953.2,108.0 955.1,108.5 957.1,109.1 959.0,109.7 961.0,110.2 962.9,110.7 964.8,111.3 966.8,111.8 968.7,112.3 970.7,112.8 972.6,113.2 974.6,113.7 976.5,114.2 978.5,114.6 980.4,115.0 982.4,115.4 984.4,115.8 986.3,116.2 988.3,116.6 990.3,116.9 992.2,117.3 994.2,117.6 996.2,117.9 998.2,118.3 1000.2,118.6 1002.1,118.9 1004.1,119.2 1006.1,119.4 1008.1,119.7 1010.1,119.9 1012.1,120.2 1014.1,120.4 1016.1,120.7 1018.1,120.9 1020.0,121.1 1022.0,121.3 1024.0,121.5 1026.0,121.7 1028.0,121.9 1030.0,122.1 1032.0,122.3 1034.0,122.5 1036.0,122.7 1038.0,122.9 1040.0,123.1 1042.0,123.2 1044.0,123.4 1046.0,123.6 1048.0,123.7 1050.0,123.9 1052.0,124.0 1054.0,124.2 1056.0,124.3 1058.0,124.5 1060.0,124.6 1062.0,124.8 1064.0,124.9 1066.0,125.1 1068.0,125.2 1070.0,125.3 1072.0,125.5 1074.0,125.6 1076.0,125.7 1078.0,125.9 1080.0,126.0 1082.0,126.1 1084.0,126.2 1086.0,126.4 1088.0,126.5 1090.1,126.6 1092.1,126.7 1094.1,126.8 1096.1,127.0 1098.1,127.1 1100.1,127.2 1102.1,127.3 1104.1,127.4 1106.1,127.5 1108.1,127.6 1110.1,127.7 1112.1,127.8 1114.1,127.9 1116.1,128.0 1118.1,128.2 1120.1,128.3 1122.1,128.4 1124.1,128.5 1126.1,128.6 1128.1,128.7 1130.1,128.8 1132.1,128.9 1134.1,129.0 1136.1,129.1 1138.1,129.2 1140.1,129.3 1142.2,129.4 1144.2,129.5 1146.2,129.6 1148.2,129.7 1150.2,129.8 1152.2,129.9 1154.2,130.0 1156.2,130.1 1158.2,130.2 1160.2,130.3 1162.2,130.4 1164.2,130.5 1166.2,130.6 1168.2,130.7 1170.2,130.8 1172.2,130.9 1174.2,131.0 1176.2,131.1 1178.2,131.2 1180.2,131.3 1182.2,131.4 1184.2,131.4 1186.2,131.5 1188.2,131.6 1190.3,131.7 1192.3,131.7 1194.3,131.8 1196.3,131.9 1198.3,131.9 1200.3,132.0 1202.3,132.1 1204.3,132.2 1206.3,132.2 1208.3,132.3 1210.3,132.3 1212.3,132.4 1214.3,132.4 1216.3,132.5 1218.3,132.5 1220.3,132.5 1222.3,132.5 1224.3,132.5 1226.3,132.5 1228.3,132.5 1230.3,132.5 1232.4,132.5 1234.4,132.5 1236.4,132.4 1238.4,132.4 1240.4,132.4 1242.4,132.4 1244.4,132.4 1246.4,132.4 1248.4,132.4 1250.4,132.4 1252.4,132.4 1254.4,132.4 1256.4,132.3 1258.4,132.3 1260.4,132.2 1262.4,132.1 1264.4,132.0 1266.4,132.0 1268.4,131.8 1270.4,131.7 1272.4,131.6 1274.4,131.5 1276.4,131.4 1278.4,131.3 1280.4,131.2 1282.4,131.0 1284.4,130.9 1286.4,130.7 1288.4,130.6" fill="none" stroke="#e5212a" stroke-width="3.8" stroke-linejoin="round" stroke-linecap="butt"/>
<polyline points="310.3,745.5 310.4,743.5 310.6,741.5 310.7,739.5 310.8,737.5 311.0,735.5 311.1,733.5 311.3,731.5 311.4,729.5 311.6,727.5 311.7,725.5 311.9,723.5 312.0,721.6 312.2,719.6 312.3,717.6 312.5,715.6 312.7,713.6 312.9,711.6 313.0,709.6 313.2,707.6 313.4,705.6 313.6,703.6 313.8,701.6 313.9,699.6 314.1,697.6 314.3,695.6 314.5,693.6 314.6,691.7 314.8,689.7 314.9,687.7 315.1,685.7 315.2,683.7 315.3,681.7 315.5,679.7 315.6,677.7 315.7,675.7 315.9,673.7 316.0,671.7 316.1,669.7 316.3,667.7 316.5,665.7 316.6,663.7 316.8,661.7 317.0,659.7 317.1,657.7 317.3,655.7 317.6,653.8 317.8,651.8 318.0,649.8 318.2,647.8 318.5,645.8 318.7,643.8 319.0,641.8 319.2,639.8 319.5,637.9 319.8,635.9 320.0,633.9 320.3,631.9 320.6,629.9 320.9,627.9 321.2,626.0 321.6,624.0 321.9,622.0 322.2,620.0 322.5,618.1 322.9,616.1 323.2,614.1 323.6,612.2 324.0,610.2 324.4,608.3 324.8,606.3 325.2,604.3 325.7,602.4 326.1,600.4 326.6,598.5 327.0,596.5 327.5,594.6 328.0,592.6 328.5,590.7 328.9,588.8 329.4,586.8 329.9,584.9 330.4,582.9 330.9,581.0 331.4,579.1 331.9,577.1 332.4,575.2 332.9,573.3 333.5,571.3 334.0,569.4 334.6,567.5 335.1,565.6 335.7,563.6 336.2,561.7 336.8,559.8 337.4,557.9 337.9,556.0 338.5,554.0 339.1,552.1 339.7,550.2 340.3,548.3 340.9,546.4 341.5,544.5 342.1,542.6 342.7,540.7 343.3,538.8 344.0,536.9 344.6,535.0 345.2,533.1 345.9,531.2 346.6,529.3 347.2,527.4 347.9,525.5 348.6,523.7 349.3,521.8 350.0,519.9 350.8,518.1 351.5,516.2 352.3,514.4 353.0,512.5 353.8,510.7 354.6,508.8 355.4,507.0 356.2,505.2 357.0,503.3 357.8,501.5 358.7,499.7 359.5,497.9 360.4,496.1 361.2,494.2 362.1,492.4 363.0,490.6 363.9,488.9 364.8,487.1 365.7,485.3 366.7,483.5 367.6,481.8 368.6,480.1 369.6,478.3 370.6,476.6 371.7,474.9 372.7,473.2 373.7,471.4 374.8,469.7 375.8,468.0 376.9,466.3 378.0,464.6 379.1,462.9 380.1,461.3 381.3,459.6 382.4,457.9 383.5,456.3 384.6,454.6 385.8,453.0 386.9,451.3 388.1,449.7 389.3,448.1 390.4,446.5 391.6,444.9 392.8,443.3 394.1,441.8 395.3,440.2 396.6,438.7 397.9,437.1 399.2,435.6 400.5,434.1 401.8,432.6 403.1,431.1 404.4,429.6 405.8,428.1 407.1,426.6 408.5,425.1 409.8,423.6 411.2,422.1 412.5,420.7 413.9,419.2 415.3,417.7 416.6,416.3 418.0,414.8 419.4,413.4 420.8,411.9 422.2,410.5 423.6,409.1 425.0,407.7 426.4,406.3 427.8,404.8 429.3,403.4 430.7,402.0 432.1,400.6 433.5,399.2 434.9,397.7 436.3,396.3 437.7,394.9 439.1,393.4 440.5,392.0 441.9,390.6 443.3,389.2 444.7,387.8 446.2,386.4 447.6,385.0 449.0,383.6 450.5,382.2 451.9,380.8 453.4,379.5 454.9,378.1 456.4,376.8 457.9,375.5 459.4,374.1 460.9,372.8 462.4,371.5 463.9,370.2 465.5,368.9 467.0,367.6 468.5,366.4 470.1,365.1 471.7,363.9 473.2,362.7 474.8,361.4 476.4,360.2 478.0,359.0 479.6,357.8 481.2,356.6 482.8,355.4 484.4,354.3 486.1,353.1 487.7,351.9 489.3,350.8 491.0,349.6 492.6,348.4 494.2,347.3 495.9,346.2 497.5,345.0 499.2,343.9 500.8,342.8 502.5,341.6 504.1,340.5 505.8,339.4 507.5,338.3 509.1,337.2 510.8,336.1 512.5,335.0 514.2,333.9 515.8,332.8 517.5,331.8 519.2,330.7 520.9,329.6 522.6,328.5 524.3,327.4 526.0,326.4 527.7,325.3 529.4,324.2 531.1,323.2 532.8,322.1 534.5,321.1 536.2,320.0 537.9,319.0 539.6,317.9 541.3,316.9 543.0,315.9 544.7,314.8 546.4,313.8 548.1,312.8 549.8,311.7 551.6,310.7 553.3,309.7 555.0,308.7 556.7,307.7 558.5,306.6 560.2,305.6 561.9,304.6 563.6,303.6 565.4,302.6 567.1,301.6 568.8,300.6 570.5,299.5 572.3,298.5 574.0,297.5 575.7,296.5 577.4,295.5 579.2,294.5 580.9,293.5 582.6,292.5 584.4,291.5 586.1,290.5 587.8,289.5 589.6,288.5 591.3,287.5 593.0,286.5 594.8,285.5 596.5,284.5 598.2,283.5 600.0,282.5 601.7,281.5 603.4,280.5 605.2,279.5 606.9,278.5 608.6,277.5 610.4,276.5 612.1,275.5 613.8,274.5 615.6,273.5 617.3,272.5 619.0,271.5 620.7,270.5 622.5,269.4 624.2,268.4 625.9,267.4 627.6,266.4 629.3,265.3 631.1,264.3 632.8,263.3 634.5,262.3 636.2,261.2 637.9,260.2 639.6,259.1 641.4,258.1 643.1,257.1 644.8,256.0 646.5,255.0 648.2,253.9 649.8,252.8 651.5,251.7 653.2,250.6 654.9,249.5 656.5,248.4 658.2,247.3 659.9,246.1 661.5,245.0 663.2,243.8 664.8,242.7 666.4,241.5 668.0,240.3 669.7,239.1 671.2,237.8 672.8,236.6 674.4,235.3 676.0,234.1 677.5,232.8 679.0,231.5 680.6,230.2 682.1,228.8 683.6,227.4 685.0,226.0 686.5,224.6 687.9,223.1 689.2,221.6 690.6,220.1 691.9,218.5 693.2,216.9 694.4,215.2 695.5,213.5 696.6,211.8 697.6,210.1 698.7,208.3 699.7,206.5 700.7,204.7 701.7,202.8 702.6,201.0 703.4,199.1 704.2,197.2 704.9,195.2 705.5,193.3 706.0,191.3 706.4,189.3 706.8,187.4 707.2,185.4 707.6,183.4 707.9,181.4 708.3,179.4 708.6,177.4 709.0,175.5 709.4,173.5 709.8,171.6 710.2,169.6 710.6,167.6 711.0,165.7 711.4,163.7 711.8,161.7 712.1,159.8 712.5,157.8 712.9,155.9 713.3,153.9 713.8,152.0 714.2,150.0 714.6,148.1 715.1,146.2 715.6,144.2 716.0,142.3 716.5,140.3 717.0,138.4 717.5,136.4 717.9,134.5 718.3,132.5 718.8,130.5 719.1,128.5 719.5,126.5 719.8,124.5 720.2,122.6 720.5,120.6 720.8,118.6 721.1,116.6 721.3,114.6 721.5,112.6 721.7,110.6 721.8,108.6 722.0,106.6 722.1,104.6 722.3,102.6 722.4,100.6 722.6,98.6 722.7,96.6 722.9,94.6 723.0,92.6 723.1,90.6 723.3,88.6 723.4,86.6 723.5,84.6 723.7,82.6 723.8,80.6 723.9,78.6 724.0,80.6 724.2,82.6 724.3,84.6 724.5,86.6 724.6,88.6 724.8,90.6 724.9,92.6 725.0,94.6 725.2,96.6 725.3,98.6 725.4,100.6 725.6,102.7 725.7,104.7 725.8,106.7 725.9,108.7 726.1,110.7 726.2,112.7 726.3,114.7 726.5,116.7 726.6,118.7 726.8,120.7 727.0,122.7 727.2,124.7 727.4,126.7 727.6,128.7 727.8,130.7 728.0,132.7 728.2,134.7 728.5,136.7 728.7,138.7 729.0,140.7 729.3,142.7 729.6,144.7 730.0,146.7 730.4,148.7 730.8,150.7 731.2,152.7 731.6,154.7 732.1,156.7 732.5,158.6 733.0,160.6 733.5,162.6 734.1,164.6 734.7,166.6 735.4,168.6 736.2,170.5 736.9,172.4 737.8,174.5 738.8,176.6 740.0,178.6 741.4,180.5 743.1,182.0 744.9,183.3 747.0,184.5 749.3,185.4 751.8,185.9 754.3,186.1 756.7,185.9 759.0,185.5 761.2,185.0 763.3,184.3 765.3,183.6 767.2,182.9 769.2,182.1 771.1,181.3 773.0,180.3 774.9,179.2 776.7,178.1 778.5,177.0 780.3,175.9 782.0,174.7 783.6,173.6 785.3,172.3 787.0,171.1 788.6,169.7 790.1,168.4 791.7,167.0 793.2,165.7 794.7,164.3 796.2,162.9 797.7,161.5 799.1,160.1 800.6,158.8 802.1,157.5 803.6,156.1 805.1,154.8 806.6,153.4 808.1,152.0 809.6,150.6 811.1,149.2 812.5,147.8 814.0,146.3 815.4,144.8 816.8,143.3 818.1,141.8 819.4,140.2 820.7,138.7 822.0,137.1 823.3,135.5 824.6,133.9 825.8,132.2 827.0,130.6 828.2,128.9 829.4,127.2 830.5,125.5 831.7,123.8 832.8,122.1 833.9,120.4 834.9,118.7 836.0,116.9 837.0,115.2 838.0,113.4 839.0,111.6 839.9,109.8 840.9,108.0 841.8,106.2 842.7,104.5 843.7,102.7 844.6,100.9 845.5,99.1 846.5,97.3 847.4,95.6 848.4,93.8 849.3,92.0 850.3,90.3 851.2,88.5 852.2,86.7 853.1,84.9 854.0,83.0 854.9,81.2 855.7,79.4 856.6,77.5 857.4,75.7 858.3,73.8 859.1,72.0 859.9,70.1 860.7,68.3 861.4,66.4 862.2,64.5 863.0,62.7 863.7,60.8 867.5,49.5 871.6,39.8 876.5,34.6 884.0,44.5 884.6,44.1 885.5,45.9 886.5,47.6 887.4,49.4 888.4,51.2 889.4,53.0 890.4,54.7 891.4,56.4 892.4,58.2 893.5,59.9 894.5,61.7 895.6,63.4 896.6,65.2 897.7,66.9 898.8,68.6 900.0,70.2 901.1,71.9 902.4,73.5 903.6,75.0 904.9,76.6 906.2,78.1 907.6,79.6 909.0,81.1 910.4,82.5 911.9,84.0 913.4,85.4 914.9,86.8 916.4,88.1 917.9,89.4 919.5,90.7 921.0,92.0 922.6,93.2 924.2,94.4 925.9,95.6 927.5,96.8 929.2,97.9 930.9,99.1 932.7,100.1 934.4,101.2 936.2,102.2 938.0,103.1 939.8,103.9 941.6,104.7 943.4,105.4 945.3,106.2 947.2,106.8 949.1,107.5 951.0,108.1 953.0,108.7 954.9,109.3 956.9,109.9 958.8,110.4 960.8,111.0 962.7,111.5 964.6,112.0 966.6,112.6 968.5,113.1 970.5,113.5 972.4,114.0 974.4,114.5 976.3,114.9 978.3,115.4 980.3,115.8 982.2,116.2 984.2,116.6 986.2,117.0 988.2,117.3 990.1,117.7 992.1,118.1 994.1,118.4 996.1,118.7 998.1,119.0 1000.0,119.4 1002.0,119.7 1004.0,119.9 1006.0,120.2 1008.0,120.5 1010.0,120.7 1012.0,121.0 1014.0,121.2 1016.0,121.5 1018.0,121.7 1020.0,121.9 1022.0,122.1 1024.0,122.3 1026.0,122.5 1028.0,122.7 1030.0,122.9 1032.0,123.1 1033.9,123.3 1035.9,123.5 1037.9,123.7 1039.9,123.9 1041.9,124.0 1043.9,124.2 1045.9,124.4 1047.9,124.5 1049.9,124.7 1052.0,124.8 1054.0,125.0 1056.0,125.1 1058.0,125.3 1060.0,125.4 1062.0,125.6 1064.0,125.7 1066.0,125.9 1068.0,126.0 1070.0,126.1 1072.0,126.3 1074.0,126.4 1076.0,126.5 1078.0,126.7 1080.0,126.8 1082.0,126.9 1084.0,127.0 1086.0,127.2 1088.0,127.3 1090.0,127.4 1092.0,127.5 1094.0,127.6 1096.0,127.8 1098.0,127.9 1100.0,128.0 1102.0,128.1 1104.0,128.3 1106.0,128.4 1108.0,128.5 1110.0,128.6 1112.0,128.7 1114.0,128.9 1116.0,129.0 1118.1,129.1 1120.1,129.2 1122.1,129.3 1124.1,129.5 1126.1,129.6 1128.1,129.7 1130.1,129.8 1132.1,129.9 1134.1,130.1 1136.1,130.2 1138.1,130.3 1140.1,130.4 1142.1,130.5 1144.1,130.7 1146.1,130.8 1148.1,130.9 1150.1,131.0 1152.1,131.2 1154.1,131.3 1156.1,131.4 1158.1,131.5 1160.1,131.6 1162.1,131.7 1164.1,131.8 1166.1,132.0 1168.1,132.1 1170.1,132.2 1172.1,132.3 1174.1,132.4 1176.2,132.5 1178.2,132.6 1180.2,132.7 1182.2,132.8 1184.2,132.9 1186.2,133.0 1188.2,133.1 1190.2,133.2 1192.2,133.3 1194.2,133.3 1196.2,133.4 1198.2,133.5 1200.2,133.6 1202.2,133.7 1204.2,133.8 1206.2,133.8 1208.3,133.9 1210.3,134.0 1212.3,134.0 1214.3,134.1 1216.3,134.1 1218.3,134.1 1220.3,134.1 1222.3,134.1 1224.3,134.1 1226.3,134.1 1228.3,134.1 1230.3,134.1 1232.4,134.1 1234.4,134.1 1236.4,134.1 1238.4,134.1 1240.4,134.1 1242.4,134.1 1244.4,134.1 1246.4,134.1 1248.4,134.1 1250.4,134.1 1252.4,134.1 1254.4,134.1 1256.5,134.1 1258.5,134.0 1260.5,133.9 1262.5,133.9 1264.5,133.8 1266.5,133.7 1268.5,133.6 1270.5,133.5 1272.5,133.4 1274.5,133.3 1276.5,133.2 1278.5,133.1 1280.6,133.0 1282.6,132.8 1284.6,132.7 1286.6,132.5 1288.6,132.4" fill="none" stroke="#e5212a" stroke-width="3.8" stroke-linejoin="round" stroke-linecap="butt"/>
<polyline points="310.3,745.5 310.4,743.5 310.6,741.5 310.7,739.5 310.8,737.5 311.0,735.5 311.1,733.5 311.3,731.5 311.4,729.5 311.6,727.5 311.7,725.5 311.9,723.5 312.0,721.6 312.2,719.6 312.3,717.6 312.5,715.6 312.7,713.6 312.8,711.6 313.0,709.6 313.2,707.6 313.4,705.6 313.6,703.6 313.8,701.6 313.9,699.6 314.1,697.6 314.3,695.6 314.5,693.6 314.6,691.7 314.8,689.7 314.9,687.7 315.0,685.7 315.2,683.7 315.3,681.7 315.5,679.7 315.6,677.7 315.7,675.7 315.9,673.7 316.0,671.7 316.1,669.7 316.3,667.7 316.4,665.7 316.6,663.7 316.8,661.7 317.0,659.7 317.1,657.7 317.3,655.7 317.5,653.8 317.8,651.8 318.0,649.8 318.2,647.8 318.5,645.8 318.7,643.8 319.0,641.8 319.2,639.8 319.5,637.9 319.8,635.9 320.0,633.9 320.3,631.9 320.6,629.9 320.9,627.9 321.2,626.0 321.6,624.0 321.9,622.0 322.2,620.0 322.5,618.1 322.9,616.1 323.2,614.1 323.6,612.2 324.0,610.2 324.4,608.3 324.8,606.3 325.2,604.3 325.7,602.4 326.1,600.4 326.6,598.5 327.0,596.5 327.5,594.6 328.0,592.6 328.5,590.7 328.9,588.8 329.4,586.8 329.9,584.9 330.4,582.9 330.9,581.0 331.4,579.1 331.9,577.1 332.4,575.2 332.9,573.3 333.5,571.3 334.0,569.4 334.5,567.5 335.1,565.5 335.7,563.6 336.2,561.7 336.8,559.8 337.3,557.9 337.9,556.0 338.5,554.0 339.1,552.1 339.7,550.2 340.3,548.3 340.9,546.4 341.5,544.5 342.1,542.6 342.7,540.7 343.3,538.8 343.9,536.9 344.6,535.0 345.2,533.1 345.9,531.2 346.6,529.3 347.2,527.4 347.9,525.5 348.6,523.7 349.3,521.8 350.0,519.9 350.7,518.1 351.5,516.2 352.2,514.4 353.0,512.5 353.8,510.7 354.6,508.8 355.4,507.0 356.2,505.1 357.0,503.3 357.8,501.5 358.7,499.7 359.5,497.9 360.4,496.0 361.2,494.2 362.1,492.4 363.0,490.6 363.9,488.8 364.8,487.1 365.7,485.3 366.7,483.5 367.6,481.8 368.6,480.0 369.6,478.3 370.6,476.6 371.6,474.9 372.7,473.1 373.7,471.4 374.8,469.7 375.8,468.0 376.9,466.3 377.9,464.6 379.0,462.9 380.1,461.2 381.2,459.6 382.3,457.9 383.5,456.2 384.6,454.6 385.7,452.9 386.9,451.3 388.1,449.7 389.2,448.1 390.4,446.5 391.6,444.9 392.8,443.3 394.1,441.7 395.3,440.2 396.6,438.6 397.8,437.1 399.1,435.6 400.4,434.1 401.8,432.5 403.1,431.0 404.4,429.5 405.8,428.0 407.1,426.6 408.5,425.1 409.8,423.6 411.2,422.1 412.5,420.6 413.9,419.2 415.2,417.7 416.6,416.2 418.0,414.8 419.4,413.4 420.8,411.9 422.2,410.5 423.6,409.1 425.0,407.7 426.4,406.2 427.8,404.8 429.2,403.4 430.6,402.0 432.1,400.6 433.5,399.1 434.9,397.7 436.3,396.3 437.7,394.9 439.1,393.4 440.5,392.0 441.9,390.6 443.3,389.1 444.7,387.7 446.1,386.3 447.6,384.9 449.0,383.5 450.4,382.2 451.9,380.8 453.4,379.5 454.9,378.1 456.3,376.8 457.8,375.4 459.3,374.1 460.9,372.8 462.4,371.5 463.9,370.2 465.4,368.9 467.0,367.6 468.5,366.3 470.1,365.1 471.6,363.8 473.2,362.6 474.8,361.4 476.4,360.2 478.0,359.0 479.6,357.8 481.2,356.6 482.8,355.4 484.4,354.2 486.0,353.0 487.7,351.9 489.3,350.7 490.9,349.6 492.6,348.4 494.2,347.3 495.8,346.1 497.5,345.0 499.1,343.8 500.8,342.7 502.4,341.6 504.1,340.5 505.8,339.4 507.4,338.3 509.1,337.1 510.8,336.1 512.5,335.0 514.1,333.9 515.8,332.8 517.5,331.7 519.2,330.6 520.9,329.5 522.6,328.5 524.2,327.4 525.9,326.3 527.6,325.2 529.3,324.2 531.0,323.1 532.7,322.1 534.4,321.0 536.1,320.0 537.8,318.9 539.5,317.9 541.2,316.8 543.0,315.8 544.7,314.8 546.4,313.7 548.1,312.7 549.8,311.7 551.5,310.6 553.2,309.6 555.0,308.6 556.7,307.6 558.4,306.6 560.1,305.6 561.9,304.5 563.6,303.5 565.3,302.5 567.0,301.5 568.8,300.5 570.5,299.5 572.2,298.5 573.9,297.5 575.7,296.5 577.4,295.4 579.1,294.4 580.9,293.4 582.6,292.4 584.3,291.4 586.1,290.4 587.8,289.4 589.5,288.4 591.3,287.4 593.0,286.4 594.7,285.5 596.5,284.5 598.2,283.4 599.9,282.4 601.7,281.4 603.4,280.4 605.1,279.4 606.9,278.4 608.6,277.4 610.3,276.4 612.1,275.4 613.8,274.4 615.5,273.4 617.2,272.4 619.0,271.4 620.7,270.4 622.4,269.4 624.1,268.3 625.9,267.3 627.6,266.3 629.3,265.3 631.0,264.2 632.7,263.2 634.5,262.2 636.2,261.1 637.9,260.1 639.6,259.0 641.3,258.0 643.0,256.9 644.6,255.8 646.3,254.7 648.0,253.6 649.6,252.5 651.3,251.3 652.9,250.2 654.5,249.0 656.2,247.9 657.8,246.7 659.4,245.5 661.0,244.3 662.6,243.1 664.2,241.9 665.8,240.7 667.4,239.5 669.0,238.2 670.5,237.0 672.1,235.7 673.6,234.4 675.1,233.1 676.6,231.8 678.1,230.5 679.6,229.1 681.0,227.7 682.5,226.3 683.9,224.9 685.3,223.4 686.6,222.0 687.9,220.5 689.2,218.9 690.5,217.4 691.7,215.8 692.9,214.2 694.0,212.5 695.0,210.8 696.1,209.1 697.1,207.4 698.2,205.6 699.1,203.8 700.1,202.0 701.0,200.2 701.8,198.4 702.5,196.5 703.2,194.7 703.7,192.8 704.2,190.9 704.7,189.0 705.1,187.0 705.5,185.0 705.8,183.0 706.2,181.1 706.5,179.1 706.9,177.1 707.3,175.1 707.7,173.2 708.1,171.2 708.4,169.2 708.8,167.3 709.2,165.3 709.6,163.3 710.0,161.4 710.4,159.4 710.8,157.5 711.2,155.5 711.6,153.5 712.0,151.6 712.4,149.6 712.9,147.7 713.3,145.7 713.8,143.8 714.3,141.8 714.8,139.9 715.2,137.9 715.7,136.0 716.2,134.1 716.6,132.1 717.0,130.1 717.4,128.2 717.7,126.2 718.1,124.3 718.4,122.3 718.7,120.3 719.0,118.3 719.3,116.3 719.6,114.4 719.8,112.4 720.1,110.4 720.4,108.4 720.6,106.4 720.9,104.4 721.2,102.5 721.4,100.5 721.7,98.5 721.9,96.5 722.1,94.5 722.4,92.5 722.6,90.5 722.8,88.5 723.1,86.6 723.3,84.6 723.5,82.6 723.7,80.6 723.9,78.6 724.1,80.6 724.4,82.6 724.6,84.6 724.8,86.6 725.0,88.6 725.3,90.6 725.5,92.6 725.7,94.6 725.9,96.6 726.1,98.6 726.3,100.6 726.5,102.6 726.7,104.6 726.9,106.6 727.1,108.6 727.3,110.6 727.5,112.5 727.7,114.5 727.9,116.5 728.1,118.5 728.3,120.5 728.5,122.5 728.7,124.5 728.9,126.5 729.1,128.5 729.3,130.5 729.6,132.5 729.8,134.5 730.0,136.5 730.3,138.5 730.5,140.5 730.8,142.5 731.1,144.5 731.5,146.5 731.9,148.4 732.2,150.4 732.7,152.4 733.1,154.3 733.6,156.3 734.1,158.2 734.6,160.2 735.2,162.1 735.9,164.0 736.6,165.9 737.3,167.8 738.1,169.6 739.0,171.4 739.9,173.4 741.0,175.3 742.1,177.0 743.4,178.4 744.7,179.4 746.4,180.4 748.3,181.3 750.3,182.0 752.4,182.5 754.4,182.7 756.3,182.6 758.3,182.2 760.3,181.7 762.3,181.1 764.2,180.5 766.1,179.8 767.9,179.1 769.8,178.3 771.6,177.4 773.3,176.5 775.1,175.4 776.8,174.3 778.5,173.2 780.2,172.1 781.9,171.0 783.5,169.9 785.1,168.6 786.6,167.4 788.2,166.1 789.7,164.8 791.2,163.4 792.7,162.1 794.2,160.7 795.7,159.3 797.1,158.0 798.6,156.6 800.1,155.3 801.6,153.9 803.2,152.6 804.7,151.3 806.1,149.9 807.6,148.5 809.1,147.2 810.5,145.8 812.0,144.3 813.3,142.9 814.7,141.4 816.0,140.0 817.3,138.4 818.6,136.9 819.9,135.4 821.2,133.8 822.4,132.2 823.6,130.6 824.8,129.0 826.0,127.3 827.2,125.7 828.3,124.0 829.4,122.4 830.5,120.7 831.6,119.0 832.7,117.3 833.7,115.6 834.7,113.9 835.7,112.1 836.7,110.4 837.6,108.6 838.6,106.8 839.5,105.0 840.4,103.2 841.4,101.5 842.3,99.7 843.3,97.9 844.2,96.1 845.2,94.4 846.1,92.6 847.1,90.8 848.0,89.1 849.0,87.3 849.9,85.5 850.8,83.7 851.7,81.9 852.6,80.1 853.5,78.3 854.3,76.5 855.2,74.7 856.0,72.8 856.8,71.0 857.6,69.2 858.4,67.3 859.2,65.5 859.9,63.6 860.7,61.7 861.5,59.9 862.2,58.0 862.9,56.1 863.5,54.2 864.2,52.3 864.8,50.4 865.5,48.4 866.2,46.5 866.9,44.7 867.6,42.8 868.4,41.0 869.3,39.2 870.3,37.5 871.3,35.8 872.5,34.1 873.7,32.5 874.9,30.9 876.7,31.2 878.5,31.5 879.7,33.1 880.8,34.8 881.9,36.5 883.0,38.2 884.0,39.9 885.0,41.6 885.9,43.4 886.8,45.2 887.7,47.0 888.7,48.8 889.6,50.6 890.5,52.3 891.5,54.1 892.5,55.8 893.5,57.6 894.5,59.3 895.5,61.1 896.6,62.8 897.6,64.5 898.7,66.3 899.8,67.9 900.9,69.6 902.0,71.2 903.2,72.8 904.4,74.4 905.7,75.9 907.0,77.4 908.3,79.0 909.7,80.4 911.1,81.9 912.5,83.3 914.0,84.8 915.4,86.2 916.9,87.5 918.4,88.8 920.0,90.1 921.5,91.4 923.1,92.6 924.6,93.9 926.3,95.1 927.9,96.3 929.6,97.5 931.2,98.6 933.0,99.7 934.7,100.8 936.4,101.7 938.2,102.7 940.0,103.5 941.8,104.3 943.6,105.1 945.4,105.8 947.3,106.5 949.2,107.1 951.2,107.7 953.1,108.3 955.0,108.9 957.0,109.5 958.9,110.0 960.9,110.6 962.8,111.1 964.7,111.6 966.7,112.2 968.6,112.7 970.6,113.2 972.5,113.6 974.5,114.1 976.4,114.6 978.4,115.0 980.4,115.4 982.3,115.8 984.3,116.2 986.3,116.6 988.2,116.9 990.2,117.3 992.2,117.7 994.2,118.0 996.1,118.3 998.1,118.7 1000.1,119.0 1002.1,119.3 1004.1,119.5 1006.1,119.8 1008.1,120.1 1010.0,120.3 1012.0,120.6 1014.0,120.8 1016.0,121.1 1018.0,121.3 1020.0,121.5 1022.0,121.7 1024.0,121.9 1026.0,122.1 1028.0,122.3 1030.0,122.5 1032.0,122.7 1034.0,122.9 1036.0,123.1 1038.0,123.3 1040.0,123.5 1042.0,123.6 1044.0,123.8 1046.0,124.0 1048.0,124.1 1050.0,124.3 1052.0,124.4 1054.0,124.6 1056.0,124.7 1058.0,124.9 1060.0,125.0 1062.0,125.2 1064.0,125.3 1066.0,125.5 1068.0,125.6 1070.0,125.7 1072.0,125.9 1074.0,126.0 1076.0,126.1 1078.0,126.3 1080.0,126.4 1082.0,126.5 1084.0,126.6 1086.0,126.8 1088.0,126.9 1090.0,127.0 1092.0,127.1 1094.0,127.2 1096.0,127.4 1098.0,127.5 1100.0,127.6 1102.0,127.7 1104.1,127.8 1106.1,128.0 1108.1,128.1 1110.1,128.2 1112.1,128.3 1114.1,128.4 1116.1,128.5 1118.1,128.6 1120.1,128.7 1122.1,128.8 1124.1,129.0 1126.1,129.1 1128.1,129.2 1130.1,129.3 1132.1,129.4 1134.1,129.5 1136.1,129.6 1138.1,129.7 1140.1,129.9 1142.1,130.0 1144.1,130.1 1146.1,130.2 1148.1,130.3 1150.1,130.4 1152.1,130.5 1154.1,130.7 1156.1,130.8 1158.2,130.9 1160.2,131.0 1162.2,131.1 1164.2,131.2 1166.2,131.3 1168.2,131.4 1170.2,131.5 1172.2,131.6 1174.2,131.7 1176.2,131.8 1178.2,131.9 1180.2,132.0 1182.2,132.1 1184.2,132.2 1186.2,132.3 1188.2,132.3 1190.2,132.4 1192.2,132.5 1194.2,132.6 1196.2,132.7 1198.2,132.7 1200.3,132.8 1202.3,132.9 1204.3,133.0 1206.3,133.0 1208.3,133.1 1210.3,133.2 1212.3,133.2 1214.3,133.2 1216.3,133.3 1218.3,133.3 1220.3,133.3 1222.3,133.3 1224.3,133.3 1226.3,133.3 1228.3,133.3 1230.3,133.3 1232.4,133.3 1234.4,133.3 1236.4,133.3 1238.4,133.3 1240.4,133.3 1242.4,133.3 1244.4,133.3 1246.4,133.3 1248.4,133.2 1250.4,133.2 1252.4,133.2 1254.4,133.2 1256.4,133.2 1258.4,133.1 1260.4,133.1 1262.5,133.0 1264.5,132.9 1266.5,132.8 1268.5,132.7 1270.5,132.6 1272.5,132.5 1274.5,132.4 1276.5,132.3 1278.5,132.2 1280.5,132.1 1282.5,131.9 1284.5,131.8 1286.5,131.6 1288.5,131.5" fill="none" stroke="#6c8fc9" stroke-width="3.7" stroke-linejoin="round" stroke-dasharray="22.3 19.4 4.6 19.4 4.6 19.4"/>
<g text-anchor="end">
<text x="283" y="117.6">90</text>
<text x="283" y="316">60</text>
<text x="283" y="514.3">30</text>
<text x="283" y="712.6">0</text>
</g>
<g text-anchor="middle">
<text x="303.6" y="861.6">0</text>
<text x="500.4" y="861.6">30</text>
<text x="697.2" y="861.6">60</text>
<text x="894" y="861.6">90</text>
<text x="1090.7" y="861.6">120</text>
<text x="1287.5" y="861.6">150</text>
<text x="795.8" y="929.9">频率/Hz</text>
<text x="904.6" y="767.5">频率/Hz</text>
</g>
<text transform="translate(192 479) rotate(-90)"><tspan font-style="italic">S</tspan><tspan font-size="32" dy="12.5">SPL</tspan><tspan dy="-12.5">/dB</tspan></text>
<text transform="translate(556.8 563.7) rotate(-90)"><tspan font-style="italic">S</tspan><tspan font-size="32" dy="12.5">SPL</tspan><tspan dy="-12.5">/dB</tspan></text>
<!-- green zoom box and arrow -->
<rect x="369.6" y="423.6" width="45.8" height="57.5" fill="none" stroke="#3a7f3f" stroke-width="3.1"/>
<line x1="417.8" y1="483.6" x2="512" y2="648.5" stroke="#3a7f3f" stroke-width="3.4"/>
<polygon points="523.6,668.6 498,649 510.5,645.9 519.6,636.3" fill="#3a7f3f"/>
<!-- inset -->
<clipPath id="ic"><rect x="651.6" y="300" width="510" height="352.4"/></clipPath>
<g clip-path="url(#ic)">
<polyline points="651.6,672.2 906.4,508.5 1161.6,355.6" fill="none" stroke="#e5212a" stroke-width="6.1"/>
<polyline points="651.6,672.2 906.4,508.5 1161.6,355.6" fill="none" stroke="#6c8fc9" stroke-width="3.4" stroke-linecap="round" stroke-dasharray="17 22 0.1 21.9 0.1 22" stroke-dashoffset="82.45"/>
</g>
<g stroke="#231f20" stroke-width="2.9" fill="none">
<path d="M651.7 310.1V652.3H1163"/>
<path d="M651.7 424.5H659.4M906.4 652.4V643.4M1161.5 652.4V643.4"/>
</g>
<g text-anchor="end">
<text x="632.5" y="438.2">38</text>
<text x="632.5" y="666.2">36</text>
</g>
<g text-anchor="middle">
<text x="651.6" y="710">12</text>
<text x="906.4" y="710">13</text>
<text x="1161.5" y="710">14</text>
</g>
</g>
</svg>
</body></html>
